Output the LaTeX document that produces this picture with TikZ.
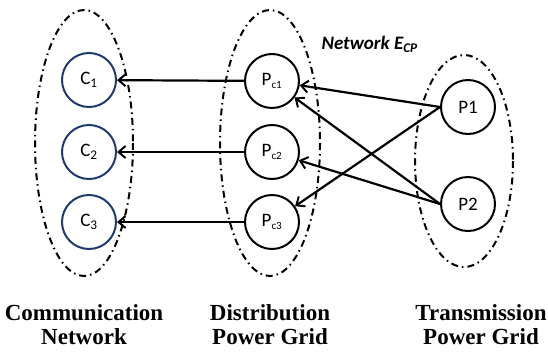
\documentclass[tikz,border=0pt]{standalone}
\usepackage{fontspec}
\setmainfont{Carlito}
\newfontfamily\timesfont{Liberation Serif}
\usetikzlibrary{arrows.meta}
\definecolor{navy}{HTML}{1F3A6E}
\tikzset{
  grp/.style={draw, line width=2pt, dash pattern=on 7pt off 4pt on 1.5pt off 4pt},
  cnode/.style={circle, draw=navy, line width=2pt, minimum size=54pt, inner sep=0pt, font=\fontsize{19}{20}\selectfont},
  pnode/.style={circle, draw=black, line width=2pt, minimum size=54pt, inner sep=0pt, font=\fontsize{19}{20}\selectfont},
  link/.style={line width=2.2pt, -{Straight Barb[length=7pt,width=12pt,line width=2pt]}},
  grplabel/.style={font=\timesfont\bfseries\fontsize{23}{24}\selectfont, align=center}
}
\begin{document}
\begin{tikzpicture}[x=1pt,y=-1pt]
\useasboundingbox (0,0) rectangle (548,351);
% groups
\draw[grp] (84,143) ellipse [x radius=49, y radius=133];
\draw[grp] (270,143) ellipse [x radius=50, y radius=133];
\draw[grp] (464,161) ellipse [x radius=49, y radius=106];
% nodes
\node[cnode] (c1) at (89,80) {C\textsubscript{1}};
\node[cnode] (c2) at (89,152) {C\textsubscript{2}};
\node[cnode] (c3) at (89,222) {C\textsubscript{3}};
\node[pnode] (p1) at (272,81) {P\textsubscript{\fontsize{11}{11}\selectfont c1}};
\node[pnode] (p2) at (272,152) {P\textsubscript{\fontsize{11}{11}\selectfont c2}};
\node[pnode] (p3) at (272,222) {P\textsubscript{\fontsize{11}{11}\selectfont c3}};
\node[pnode] (t1) at (468,107) {P1};
\node[pnode] (t2) at (468,204) {P2};
% links
\draw[link] (p1) -- (c1);
\draw[link] (p2) -- (c2);
\draw[link] (p3) -- (c3);
\draw[link] (t1.west) -- (p1);
\draw[link] (t2.west) -- (p1);
\draw[link] (t2.west) -- (p2);
\draw[link] (t1.west) -- (p3);
% labels
\node[font=\bfseries\itshape\fontsize{19}{20}\selectfont, anchor=west] (net) at (318,44) {Network E\textsubscript{CP}};
\node[grplabel] (l1) at (84,325) {Communication\\Network};
\node[grplabel] (l2) at (270,325) {Distribution\\Power Grid};
\node[grplabel] (l3) at (481,325) {Transmission\\Power Grid};
\end{tikzpicture}
\end{document}
